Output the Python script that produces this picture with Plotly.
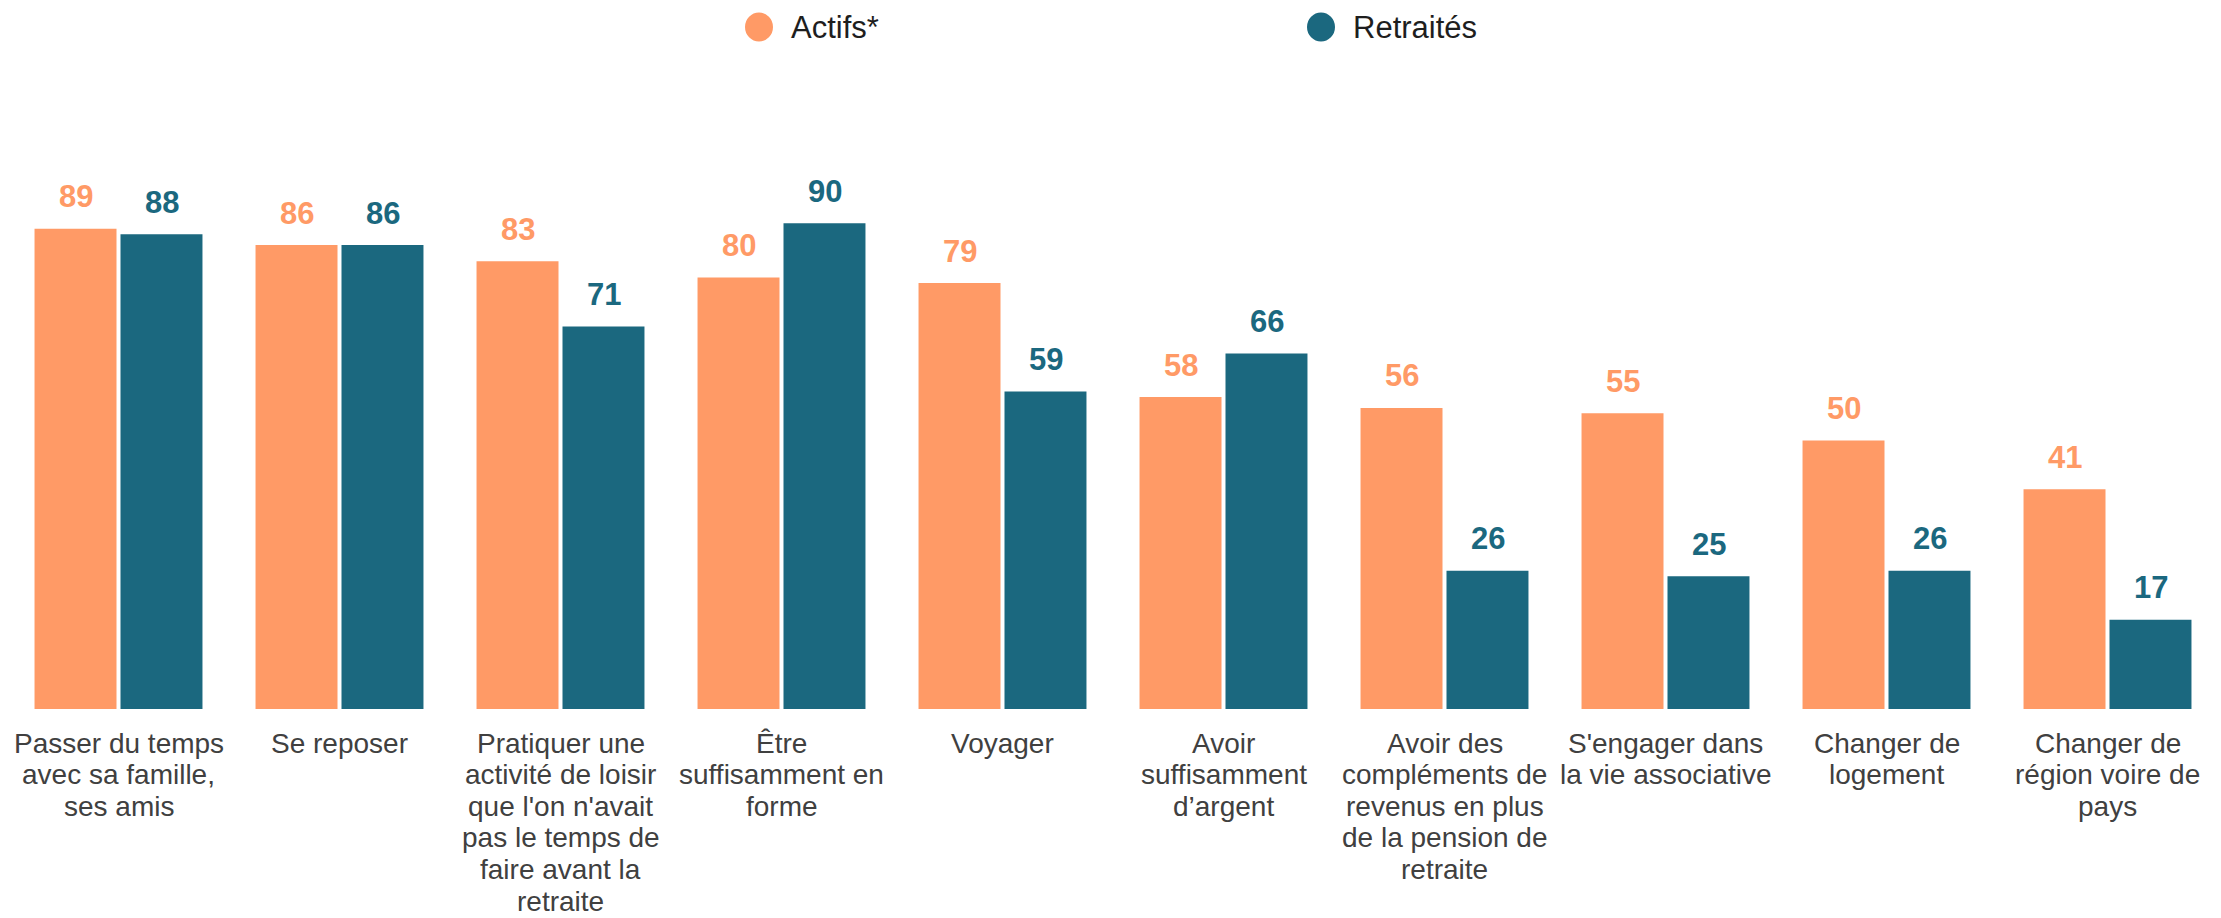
import plotly.graph_objects as go

categories = [
    "Passer du temps<br>avec sa famille,<br>ses amis",
    "Se reposer",
    "Pratiquer une<br>activité de loisir<br>que l'on n'avait<br>pas le temps de<br>faire avant la<br>retraite",
    "Être<br>suffisamment en<br>forme",
    "Voyager",
    "Avoir<br>suffisamment<br>d’argent",
    "Avoir des<br>compléments de<br>revenus en plus<br>de la pension de<br>retraite",
    "S'engager dans<br>la vie associative",
    "Changer de<br>logement",
    "Changer de<br>région voire de<br>pays",
]
actifs = [89, 86, 83, 80, 79, 58, 56, 55, 50, 41]
retraites = [88, 86, 71, 90, 59, 66, 26, 25, 26, 17]
series_names = ["Actifs*", "Retraités"]

ORANGE = "#FF9A66"
TEAL = "#1B687F"
FONT = "Liberation Sans, Arial, sans-serif"

# the page body has an 8px default margin: the figure is sized to fit the window
W, H = 2213, 910
ML, MR, MT, MB = 0, 3, 163, 209
PW, PH = W - ML - MR, H - MT - MB

fig = go.Figure()
for name, vals, col in [(series_names[0], actifs, ORANGE), (series_names[1], retraites, TEAL)]:
    fig.add_trace(go.Bar(x=categories, y=vals, name=name, marker=dict(color=col, line=dict(width=0)),
                         showlegend=False, hoverinfo="y+name"))

# value labels
for vals, col, shift in [(actifs, ORANGE, -43), (retraites, TEAL, 43)]:
    for c, v in zip(categories, vals):
        fig.add_annotation(x=c, y=v, text=f"<b>{v}</b>", showarrow=False,
                           xshift=shift, yshift=32, yanchor="middle",
                           font=dict(family=FONT, size=31, color=col))

# category labels (one text line per annotation for tighter line spacing)
for c in categories:
    for j, line in enumerate(c.split("<br>")):
        fig.add_annotation(x=c, xref="x", y=0, yref="paper", text=line, showarrow=False,
                           yanchor="middle", xanchor="center", yshift=-(34 + j * 31.6),
                           font=dict(family=FONT, size=28, color="#404040"))

# legend: large round markers with their labels
legend_y = (PH + MT - 19) / PH
for name, col, px in [(series_names[0], ORANGE, 751), (series_names[1], TEAL, 1313)]:
    fig.add_shape(type="circle", xref="paper", yref="paper",
                  xsizemode="pixel", ysizemode="pixel",
                  xanchor=(px - ML) / PW, yanchor=legend_y,
                  x0=-14, x1=14, y0=-14.5, y1=14.5,
                  fillcolor=col, line=dict(width=0))
    fig.add_annotation(x=(px + 30 - ML) / PW, xref="paper", y=legend_y, yref="paper",
                       text=name, showarrow=False, xanchor="left", yanchor="middle",
                       font=dict(family=FONT, size=31, color="#1E1E1E"))

fig.update_layout(
    width=W, height=H,
    paper_bgcolor="white", plot_bgcolor="white",
    margin=dict(l=ML, r=MR, t=MT, b=MB),
    barmode="group", bargap=0.222, bargroupgap=0.0465,
    showlegend=False,
    xaxis=dict(showgrid=False, showline=False, zeroline=False, automargin=False,
               showticklabels=False, ticks=""),
    yaxis=dict(range=[0.55, 99.63], showgrid=False, showline=False, zeroline=False,
               automargin=False, showticklabels=False, ticks=""),
)

fig.write_html("out.html")
